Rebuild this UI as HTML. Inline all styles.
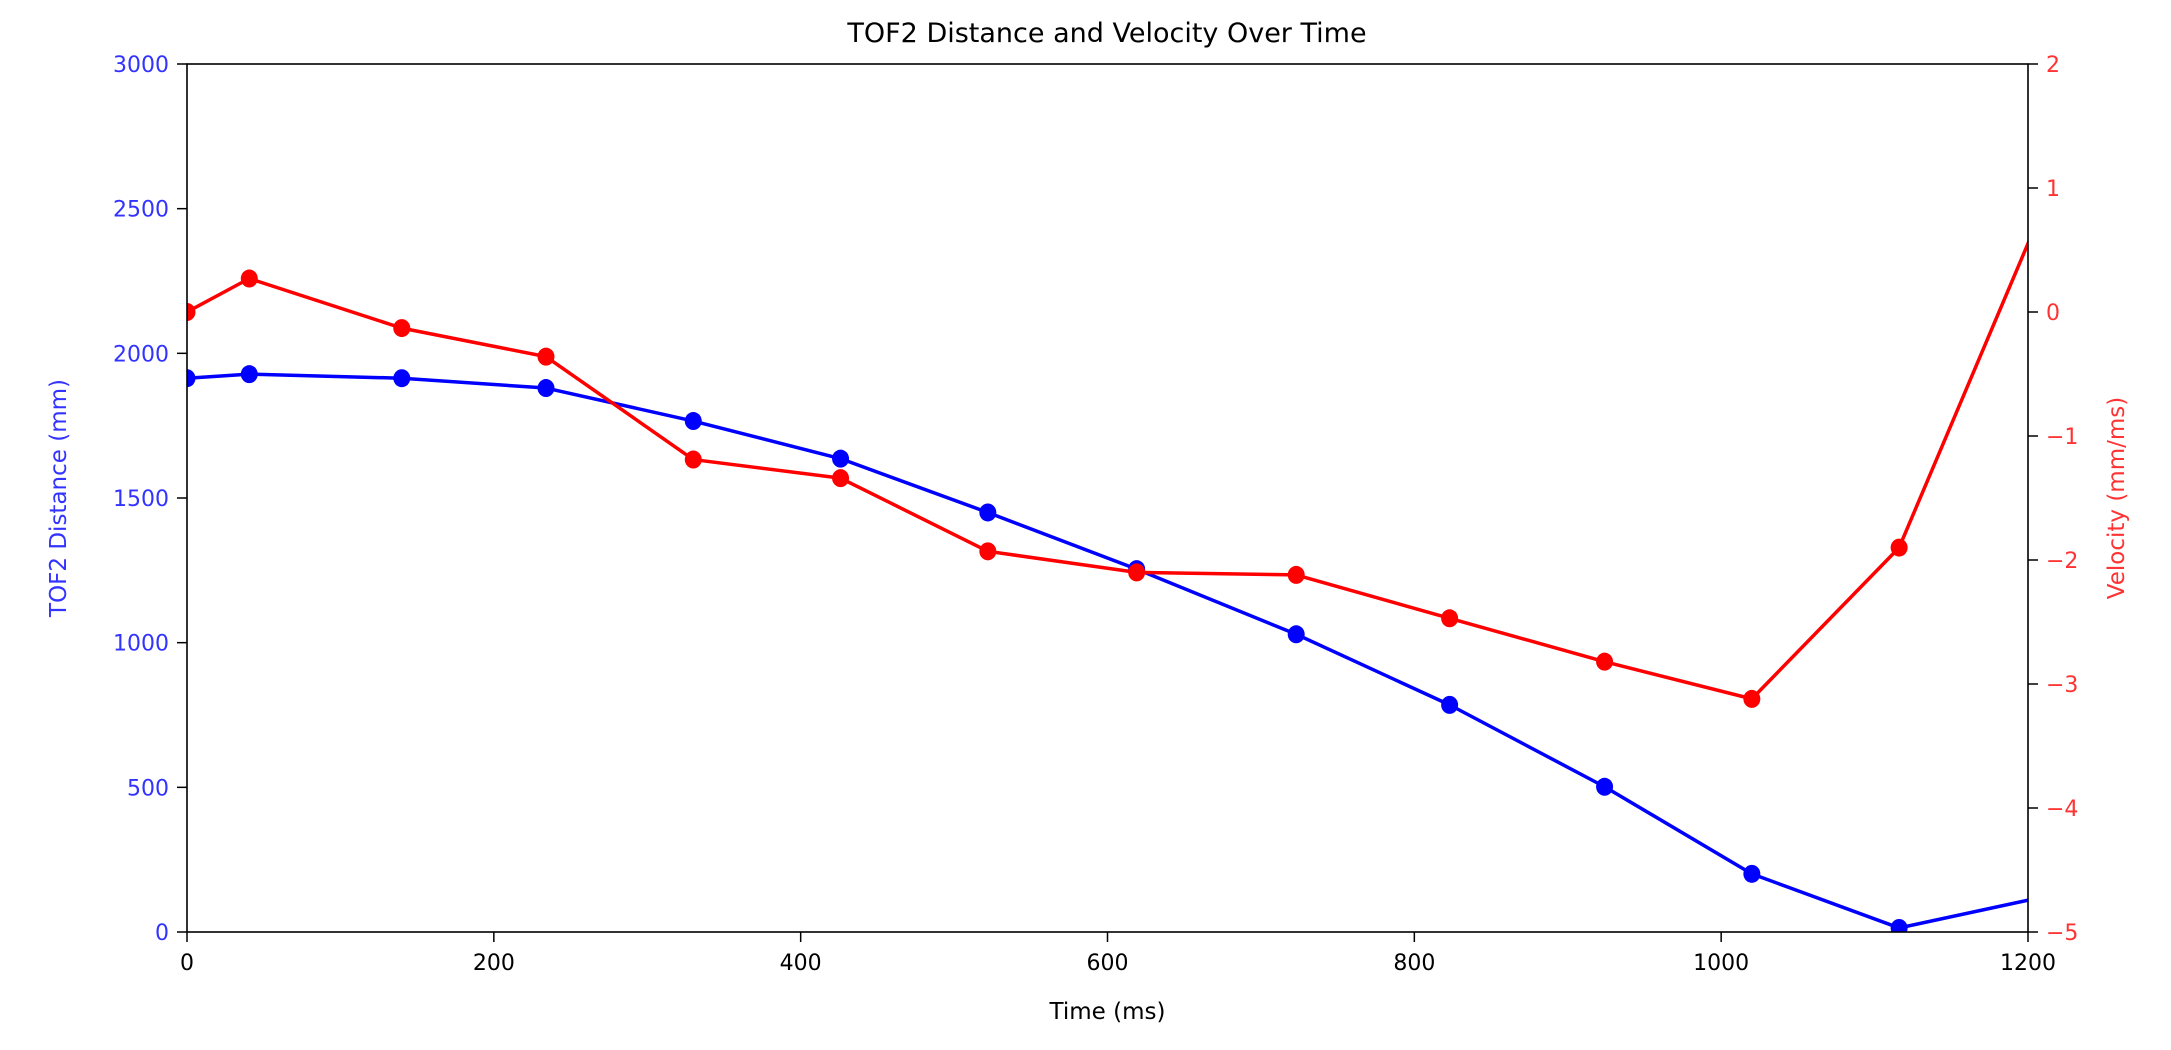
<!DOCTYPE html>
<html><head><meta charset="utf-8"><style>
html,body{margin:0;padding:0;background:#fff;}
svg{display:block;font-family:"DejaVu Sans","Liberation Sans",sans-serif;}
</style></head><body>
<svg id="chart" width="2171" height="1050">
<text x="1107" y="42" font-size="27" text-anchor="middle" fill="#000">TOF2 Distance and Velocity Over Time</text>
<g id="plot"></g>
</svg>
<script>
const times = [0, 40.6, 140, 234, 330, 426, 522, 619, 723, 823, 924, 1020, 1116, 1215];
const distance = [1914, 1928, 1914, 1880, 1766, 1636, 1450, 1254, 1029, 785, 502, 201, 14, 127];
const velocity = [0.0, 0.27, -0.13, -0.36, -1.19, -1.34, -1.93, -2.10, -2.12, -2.47, -2.82, -3.12, -1.90, 0.99];
const xTicks = [0, 200, 400, 600, 800, 1000, 1200];
const yLeftTicks = [0, 500, 1000, 1500, 2000, 2500, 3000];
const yRightTicks = [-5, -4, -3, -2, -1, 0, 1, 2];

const L = 187, R = 2028, T = 64, B = 932;
const NS = 'http://www.w3.org/2000/svg';
const xs = t => L + (t - 0) / 1200 * (R - L);
const yl = d => B - d / 3000 * (B - T);
const yr = v => B - (v + 5) / 7 * (B - T);
const g = document.getElementById('plot');
function mk(tag, attrs, parent) {
  const e = document.createElementNS(NS, tag);
  for (const k in attrs) e.setAttribute(k, attrs[k]);
  (parent || g).appendChild(e);
  return e;
}
const defs = mk('defs', {});
const cp = mk('clipPath', {id: 'clip'}, defs);
mk('rect', {x: L, y: T, width: R - L, height: B - T}, cp);

const series = [
  {vals: distance, f: yl, color: '#0000ff', name: 'distance'},
  {vals: velocity, f: yr, color: '#ff0000', name: 'velocity'}
];
series.forEach(s => {
  const sg = mk('g', {'clip-path': 'url(#clip)'});
  
  
  const pts = times.map((t, i) => xs(t) + ',' + s.f(s.vals[i])).join(' ');
  const pl = mk('polyline', {points: pts, fill: 'none', stroke: s.color, 'stroke-width': 3.5, 'stroke-linejoin': 'round'}, sg);
  
  
  times.forEach((t, i) => {
    const c = mk('ellipse', {cx: xs(t), cy: s.f(s.vals[i]), rx: 8.5, ry: 9, fill: s.color}, sg);
    
    
  });
});

// frame
const fr = mk('rect', {x: L, y: T, width: R - L, height: B - T, fill: 'none', stroke: '#000', 'stroke-width': 1.6});



xTicks.forEach(t => {
  mk('line', {x1: xs(t), x2: xs(t), y1: B, y2: B + 10, stroke: '#000', 'stroke-width': 1.5});
  const tx = mk('text', {x: xs(t), y: B + 38, 'font-size': 22, 'text-anchor': 'middle', fill: '#000'});
  tx.textContent = t;
  
  
});
yLeftTicks.forEach(d => {
  mk('line', {x1: L - 10, x2: L, y1: yl(d), y2: yl(d), stroke: '#000', 'stroke-width': 1.5});
  const tx = mk('text', {x: L - 18, y: yl(d) + 8, 'font-size': 22, 'text-anchor': 'end', fill: '#3333ff'});
  tx.textContent = d;
  
  
});
yRightTicks.forEach(v => {
  mk('line', {x1: R, x2: R + 10, y1: yr(v), y2: yr(v), stroke: '#000', 'stroke-width': 1.5});
  const tx = mk('text', {x: R + 18, y: yr(v) + 8, 'font-size': 22, 'text-anchor': 'start', fill: '#ff3333'});
  tx.textContent = v < 0 ? '\u2212' + Math.abs(v) : v;
  
  
});
const xt = mk('text', {x: (L + R) / 2, y: 1019, 'font-size': 23, 'text-anchor': 'middle', fill: '#000'});
xt.textContent = 'Time (ms)';


const ylt = mk('text', {x: 0, y: 0, 'font-size': 23, 'text-anchor': 'middle', fill: '#3333ff', transform: 'translate(66,' + (T + B) / 2 + ') rotate(-90)'});
ylt.textContent = 'TOF2 Distance (mm)';


const yrt = mk('text', {x: 0, y: 0, 'font-size': 23, 'text-anchor': 'middle', fill: '#ff3333', transform: 'translate(2124,' + (T + B) / 2 + ') rotate(-90)'});
yrt.textContent = 'Velocity (mm/ms)';


</script>
</body></html>
